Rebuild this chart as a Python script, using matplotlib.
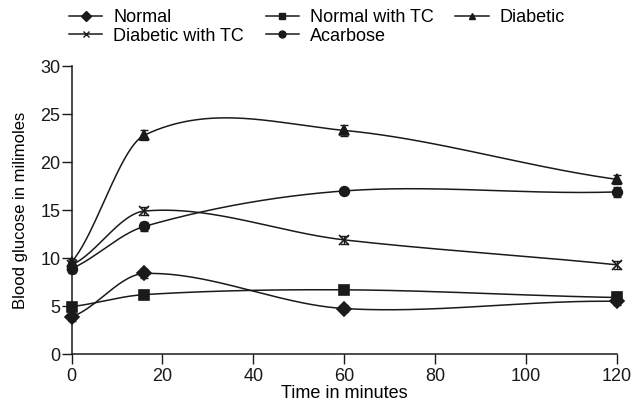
import numpy as np
import matplotlib.pyplot as plt

plt.rcParams['font.family'] = ['Liberation Sans', 'DejaVu Sans']

# время (мин)
time = [0, 16, 60, 120]

normal = [3.9, 8.4, 4.75, 5.5]
normal_err = [0.4, 0.5, 0.4, 0.4]
normal_tc = [4.95, 6.2, 6.7, 5.9]
normal_tc_err = [0.2, 0.2, 0.2, 0.6]
diabetic = [9.6, 22.8, 23.3, 18.2]
diabetic_err = [0.3, 0.5, 0.6, 0.5]
diabetic_tc = [9.3, 14.9, 11.9, 9.3]
diabetic_tc_err = [0.3, 0.4, 0.4, 0.4]
acarbose = [8.9, 13.3, 17.0, 16.9]
acarbose_err = [0.4, 0.5, 0.2, 0.5]


def smooth(x, y, n=300):
    """кривая Эрмита (касательные по соседям) - сглаживание как в GraphPad"""
    x = np.asarray(x, float)
    y = np.asarray(y, float)
    k = len(x)
    m = np.zeros(k)
    for i in range(1, k - 1):
        m[i] = (y[i + 1] - y[i - 1]) / (x[i + 1] - x[i - 1])
    # на концах - среднее между секущей и соседней касательной (S-образный старт)
    m[0] = 0.5 * ((y[1] - y[0]) / (x[1] - x[0]) + m[1])
    m[-1] = 0.5 * ((y[-1] - y[-2]) / (x[-1] - x[-2]) + m[-2])
    xs = np.linspace(x[0], x[-1], n)
    idx = np.clip(np.searchsorted(x, xs) - 1, 0, k - 2)
    h = x[idx + 1] - x[idx]
    t = (xs - x[idx]) / h
    h00 = 2 * t ** 3 - 3 * t ** 2 + 1
    h10 = t ** 3 - 2 * t ** 2 + t
    h01 = -2 * t ** 3 + 3 * t ** 2
    h11 = t ** 3 - t ** 2
    ys = h00 * y[idx] + h10 * h * m[idx] + h01 * y[idx + 1] + h11 * h * m[idx + 1]
    return xs, ys


fig = plt.figure(figsize=(6.33, 4.08), dpi=100)
ax = fig.add_axes([0.113, 0.132, 0.862, 0.706])

series = [
    ('Normal', normal, normal_err, 'D'),
    ('Normal with TC', normal_tc, normal_tc_err, 's'),
    ('Diabetic', diabetic, diabetic_err, '^'),
    ('Diabetic with TC', diabetic_tc, diabetic_tc_err, 'x'),
    ('Acarbose', acarbose, acarbose_err, 'o'),
]
col = '#1a1a1a'
handles = {}
for name, vals, err, m in series:
    xs, ys = smooth(time, vals)
    ax.plot(xs, ys, color=col, lw=1.1, clip_on=False)
    ax.errorbar(time, vals, yerr=err, fmt='none', ecolor=col, elinewidth=1.0, capsize=3, clip_on=False)
    ax.plot(time, vals, linestyle='none', marker=m, color=col, ms=7, mew=1.2, clip_on=False)
    h, = ax.plot([], [], color=col, lw=1.1, marker=m, ms=5, mew=1.0)
    handles[name] = h

order = ['Normal', 'Diabetic with TC', 'Normal with TC', 'Acarbose', 'Diabetic']
fig.legend([handles[o] for o in order], order, ncol=3, loc='upper left',
           bbox_to_anchor=(69 / 633, 1 - 9 / 408), frameon=False, fontsize=13,
           handlelength=1.85, handletextpad=0.6, columnspacing=1.2,
           labelspacing=0.1, borderaxespad=0, borderpad=0)

ax.set_xlim(0, 120)
ax.set_ylim(0, 30)
ax.set_xticks(range(0, 121, 20))
ax.set_yticks(range(0, 31, 5))
ax.spines['top'].set_visible(False)
ax.spines['right'].set_visible(False)
ax.tick_params(labelsize=13, length=7, width=1.0, colors=col)
ax.tick_params(axis='x', pad=3)
ax.tick_params(axis='y', pad=1)
ax.set_xlabel('Time in minutes', fontsize=13, labelpad=0)
ax.set_ylabel('Blood glucose in milimoles', fontsize=12, labelpad=9)
for s in ax.spines.values():
    s.set_color(col)
    s.set_linewidth(1.1)

fig.savefig('out.png', dpi=100)
